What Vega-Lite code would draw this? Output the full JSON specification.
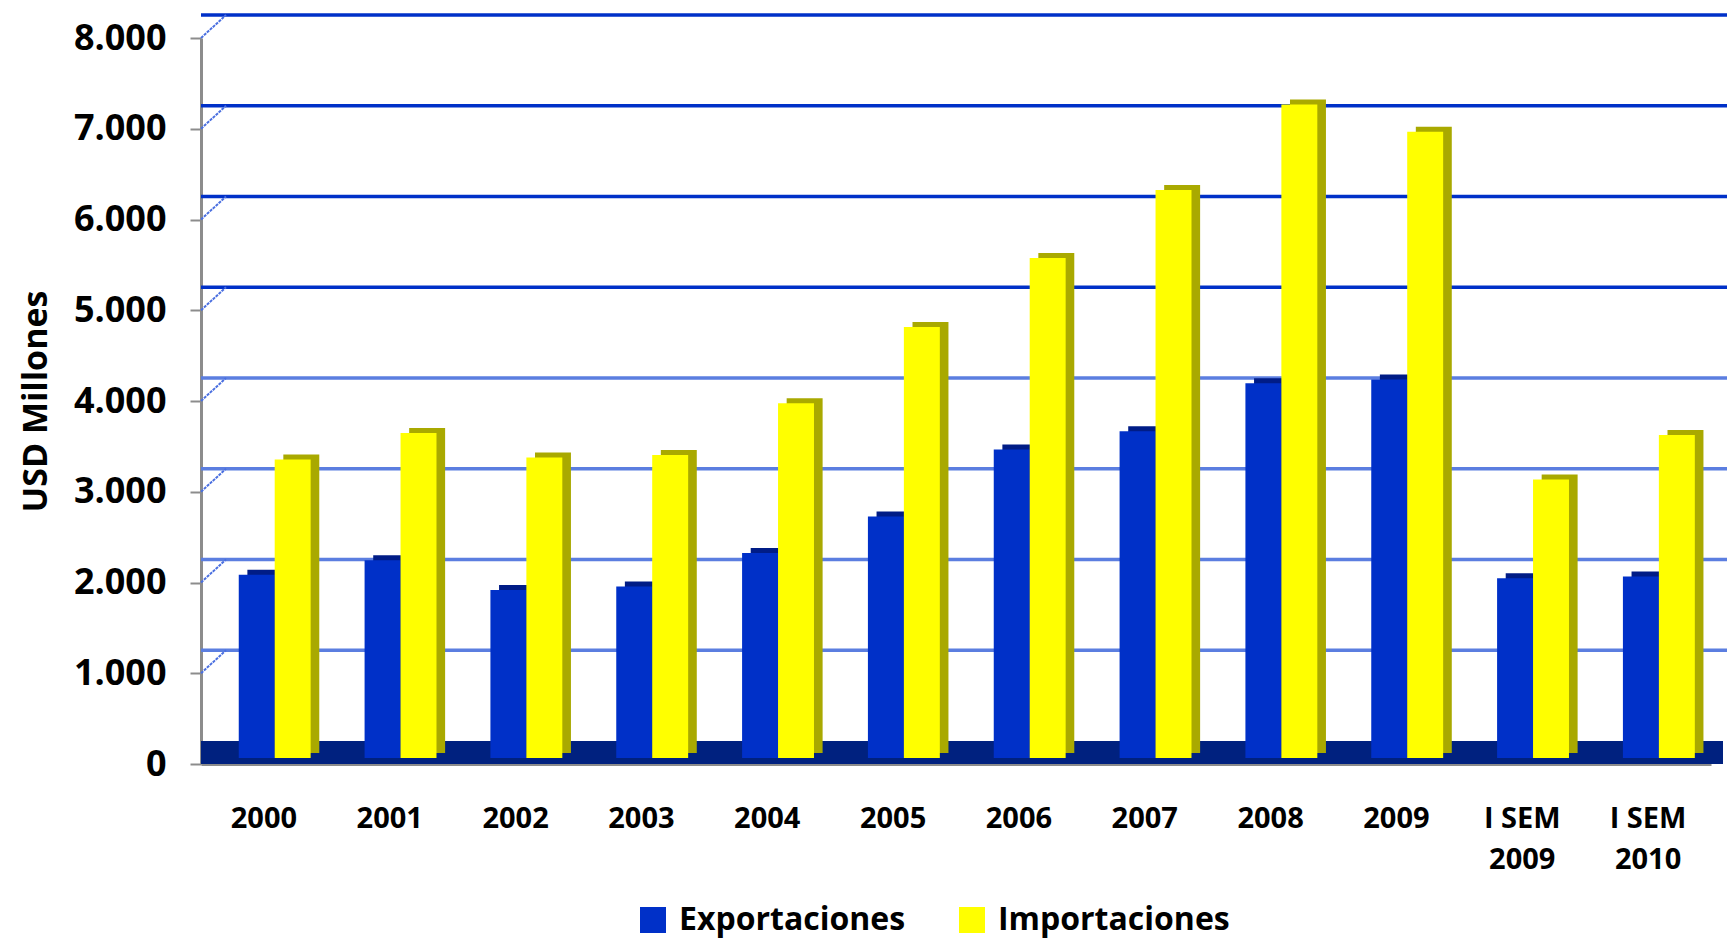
{
  "$schema": "https://vega.github.io/schema/vega-lite/v6.json",
  "width": 1510,
  "height": 726,
  "autosize": "none",
  "padding": {"left": 201, "top": 38, "right": 16, "bottom": 174},
  "background": "white",
  "config": {"view": {"stroke": null}, "font": "Open Sans"},
  "datasets": {
    "trade": [
      {"cat": "2000", "tipo": "Exportaciones", "v": 2020},
      {"cat": "2000", "tipo": "Importaciones", "v": 3290},
      {"cat": "2001", "tipo": "Exportaciones", "v": 2180},
      {"cat": "2001", "tipo": "Importaciones", "v": 3580},
      {"cat": "2002", "tipo": "Exportaciones", "v": 1850},
      {"cat": "2002", "tipo": "Importaciones", "v": 3310},
      {"cat": "2003", "tipo": "Exportaciones", "v": 1890},
      {"cat": "2003", "tipo": "Importaciones", "v": 3340},
      {"cat": "2004", "tipo": "Exportaciones", "v": 2260},
      {"cat": "2004", "tipo": "Importaciones", "v": 3910},
      {"cat": "2005", "tipo": "Exportaciones", "v": 2660},
      {"cat": "2005", "tipo": "Importaciones", "v": 4750},
      {"cat": "2006", "tipo": "Exportaciones", "v": 3400},
      {"cat": "2006", "tipo": "Importaciones", "v": 5510},
      {"cat": "2007", "tipo": "Exportaciones", "v": 3600},
      {"cat": "2007", "tipo": "Importaciones", "v": 6260},
      {"cat": "2008", "tipo": "Exportaciones", "v": 4130},
      {"cat": "2008", "tipo": "Importaciones", "v": 7200},
      {"cat": "2009", "tipo": "Exportaciones", "v": 4170},
      {"cat": "2009", "tipo": "Importaciones", "v": 6900},
      {"cat": "I SEM 2009", "tipo": "Exportaciones", "v": 1980},
      {"cat": "I SEM 2009", "tipo": "Importaciones", "v": 3070},
      {"cat": "I SEM 2010", "tipo": "Exportaciones", "v": 2000},
      {"cat": "I SEM 2010", "tipo": "Importaciones", "v": 3560}
    ],
    "grid": [
      {"v": 1000}, {"v": 2000}, {"v": 3000}, {"v": 4000},
      {"v": 5000}, {"v": 6000}, {"v": 7000}, {"v": 8000}
    ]
  },
  "resolve": {"scale": {"xOffset": "independent"}},
  "layer": [
    {
      "data": {"name": "grid"},
      "mark": {"type": "rule", "strokeWidth": 3.5, "xOffset": 25, "yOffset": -23},
      "encoding": {
        "y": {"field": "v", "type": "quantitative", "scale": {"domain": [0, 8000], "nice": false}},
        "color": {"condition": {"test": "datum.v <= 4000", "value": "#5b7ee0"}, "value": "#0030c8"}
      }
    },
    {
      "data": {"name": "grid"},
      "mark": {"type": "rule", "strokeWidth": 2, "strokeDash": [3, 1], "color": "#4a6fe0", "xOffset": -62.9, "x2Offset": -37.9, "y2Offset": -23},
      "encoding": {
        "x": {"datum": "2000", "type": "nominal"},
        "x2": {"datum": "2000"},
        "y": {"field": "v", "type": "quantitative"},
        "y2": {"field": "v"}
      }
    },
    {
      "data": {"values": [{"v": 0}]},
      "mark": {"type": "rule", "strokeWidth": 23, "color": "#00217f", "xOffset": 12, "yOffset": -11.5, "strokeCap": "butt"},
      "encoding": {
        "y": {"field": "v", "type": "quantitative"}
      }
    },
    {
      "data": {"name": "trade"},
      "transform": [{"filter": "datum.tipo === 'Exportaciones'"}],
      "mark": {"type": "bar", "color": "#001c86", "yOffset": -11, "y2Offset": -11},
      "encoding": {
        "x": {"field": "cat", "type": "nominal", "sort": null},
        "xOffset": {"field": "tipo", "type": "nominal", "sort": ["Exportaciones", "Importaciones"],
          "scale": {"domain": ["Exportaciones", "Importaciones"], "paddingInner": 0, "paddingOuter": 0.75, "align": 0.86}},
        "y": {"field": "v", "type": "quantitative"}
      }
    },
    {
      "data": {"name": "trade"},
      "transform": [{"filter": "datum.tipo === 'Exportaciones'"}],
      "mark": {"type": "bar", "yOffset": -6, "y2Offset": -6, "color": "#0030c8"},
      "encoding": {
        "x": {"field": "cat", "type": "nominal", "sort": null},
        "xOffset": {"field": "tipo", "type": "nominal", "sort": ["Exportaciones", "Importaciones"],
          "scale": {"domain": ["Exportaciones", "Importaciones"], "paddingInner": 0, "paddingOuter": 0.75, "align": 0.7}},
        "y": {"field": "v", "type": "quantitative"}
      }
    },
    {
      "data": {"name": "trade"},
      "transform": [{"filter": "datum.tipo === 'Importaciones'"}],
      "mark": {"type": "bar", "color": "#a9a900", "yOffset": -11, "y2Offset": -11},
      "encoding": {
        "x": {"field": "cat", "type": "nominal", "sort": null},
        "xOffset": {"field": "tipo", "type": "nominal", "sort": ["Exportaciones", "Importaciones"],
          "scale": {"domain": ["Exportaciones", "Importaciones"], "paddingInner": 0, "paddingOuter": 0.75, "align": 0.86}},
        "y": {"field": "v", "type": "quantitative"}
      }
    },
    {
      "data": {"name": "trade"},
      "transform": [{"filter": "datum.tipo === 'Importaciones'"}],
      "mark": {"type": "bar", "yOffset": -6, "y2Offset": -6},
      "encoding": {
        "x": {
          "field": "cat", "type": "nominal", "sort": null,
          "scale": {"paddingInner": 0, "paddingOuter": 0},
          "axis": {
            "title": null, "labelAngle": 0, "ticks": false, "labelAlign": "center",
            "domainColor": "#8c8c8c", "domainWidth": 3,
            "labelFontSize": 29, "labelFontWeight": "bold", "labelColor": "black",
            "labelPadding": 40, "labelBaseline": "top", "labelLineHeight": 41,
            "labelExpr": "indexof(datum.value, 'I SEM') === 0 ? ['I SEM', substring(datum.value, 6)] : datum.value"
          }
        },
        "xOffset": {
          "field": "tipo", "type": "nominal", "sort": ["Exportaciones", "Importaciones"],
          "scale": {"domain": ["Exportaciones", "Importaciones"], "paddingInner": 0, "paddingOuter": 0.75, "align": 0.7}
        },
        "y": {
          "field": "v", "type": "quantitative",
          "axis": {
            "title": "USD Millones", "titleFontSize": 34, "titleFontWeight": "bold", "titleColor": "black", "titlePadding": 20,
            "values": [0, 1000, 2000, 3000, 4000, 5000, 6000, 7000, 8000],
            "labelExpr": "replace(format(datum.value, ','), ',', '.')",
            "labelFontSize": 36, "labelFontWeight": "bold", "labelColor": "black", "labelPadding": 24,
            "tickColor": "#8c8c8c", "tickSize": 11, "tickWidth": 2,
            "domainColor": "#8c8c8c", "domainWidth": 3, "grid": false
          }
        },
        "color": {
          "field": "tipo", "type": "nominal",
          "scale": {"domain": ["Exportaciones", "Importaciones"], "range": ["#0030c8", "#ffff00"]},
          "legend": {
            "title": null, "orient": "none", "direction": "horizontal",
            "legendX": 436, "legendY": 866,
            "symbolType": "square", "symbolSize": 676, "symbolStrokeWidth": 0, "symbolOpacity": 1,
            "labelFontSize": 32, "labelFontWeight": "bold", "labelColor": "black", "labelLimit": 0,
            "labelOffset": 10, "columnPadding": 50
          }
        }
      }
    }
  ]
}
